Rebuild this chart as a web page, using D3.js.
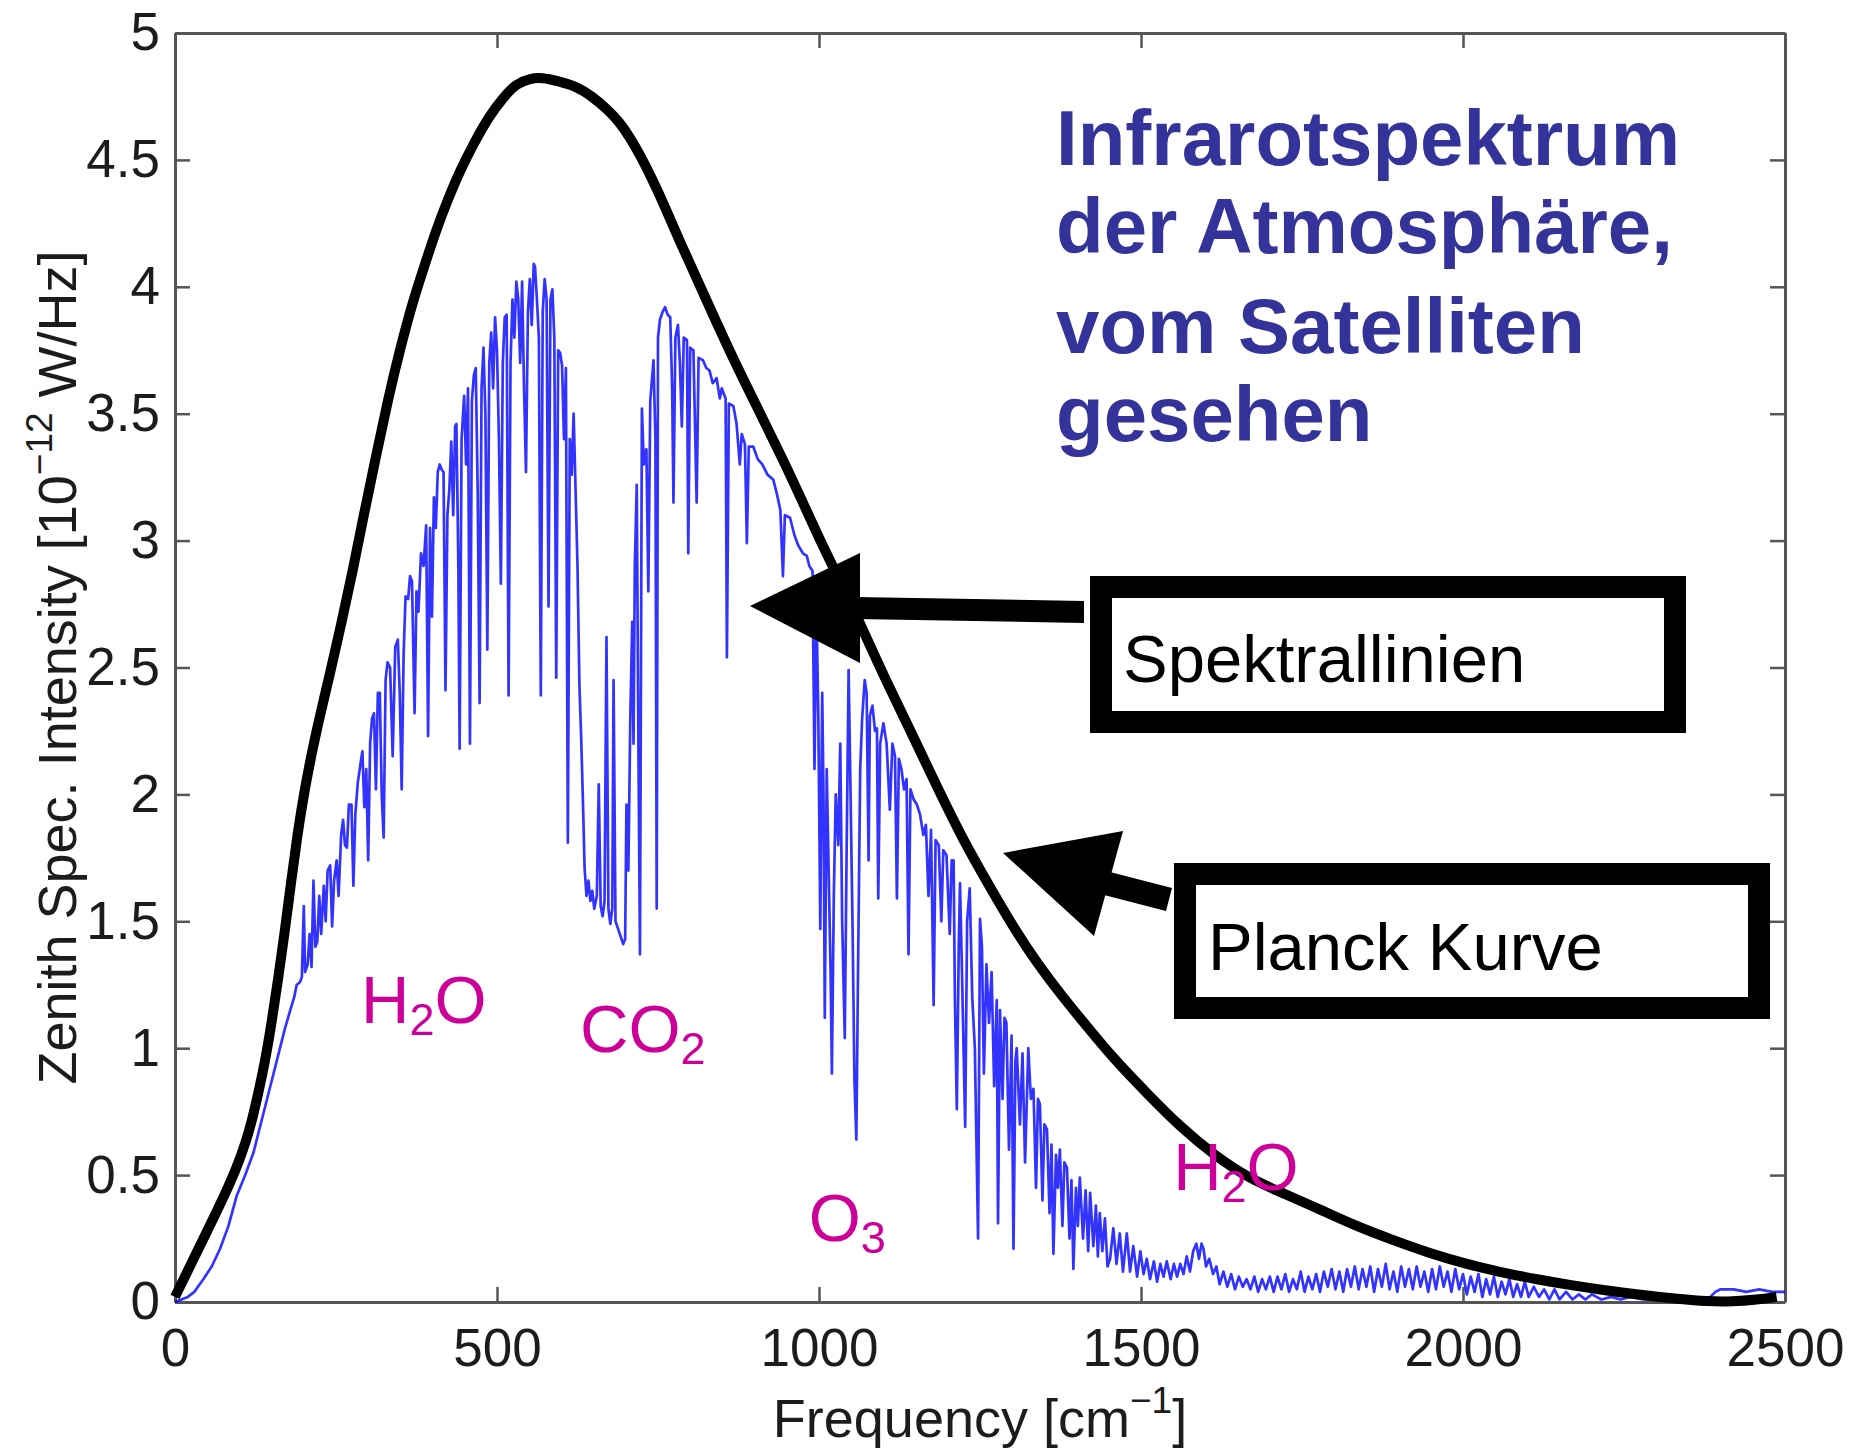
<!DOCTYPE html>
<html><head><meta charset="utf-8">
<script src="https://cdn.jsdelivr.net/npm/d3@7/dist/d3.min.js"></script>
<style>
body{margin:0;background:#fff}
svg{display:block}
text{font-family:"Liberation Sans",Arial,Helvetica,sans-serif}
</style>
</head><body>
<svg id="chart" width="1854" height="1449"></svg>
<script>
// ---------------- data ----------------
const xTicks = [0, 500, 1000, 1500, 2000, 2500];
const yTicks = [0, 0.5, 1, 1.5, 2, 2.5, 3, 3.5, 4, 4.5, 5];

// Planck curve [frequency cm^-1, intensity]
const planck = [
[0,0.02],[25,0.15],[50,0.28],[75,0.41],[96,0.53],[110,0.63],[120,0.72],[130,0.83],[140,0.95],[150,1.10],
[160,1.27],[170,1.45],[180,1.65],[190,1.84],[200,2.00],[212,2.16],[226,2.32],[241,2.48],[258,2.67],[276,2.88],
[293,3.10],[312,3.33],[331,3.56],[350,3.76],[369,3.94],[387,4.08],[405,4.22],[423,4.34],[443,4.46],[463,4.56],
[487,4.67],[511,4.75],[530,4.80],[550,4.82],[570,4.825],[595,4.81],[623,4.79],[648,4.75],[671,4.70],[690,4.65],
[706,4.59],[722,4.52],[740,4.43],[760,4.32],[780,4.20],[800,4.09],[830,3.92],[866,3.72],[905,3.52],[944,3.32],
[975,3.15],[1000,3.01],[1025,2.88],[1050,2.75],[1075,2.61],[1100,2.47],[1146,2.23],[1185,2.02],[1224,1.82],[1262,1.65],
[1301,1.48],[1340,1.33],[1379,1.20],[1418,1.08],[1457,0.96],[1510,0.82],[1561,0.69],[1613,0.58],[1669,0.485],[1724,0.425],
[1780,0.362],[1835,0.298],[1891,0.244],[1946,0.194],[2002,0.152],[2057,0.118],[2113,0.090],[2168,0.066],[2224,0.045],[2279,0.027],
[2335,0.012],[2379,0.002],[2418,0.001],[2457,0.009],[2487,0.020]
];

// Satellite spectrum [frequency cm^-1, intensity]
const spectrum = [
[0,0.00],[10,0.01],[20,0.02],[30,0.04],[44,0.09],[57,0.14],[70,0.21],[83,0.30],[96,0.42],[109,0.50],
[122,0.59],[135,0.72],[148,0.85],[156,0.93],[163,1.00],[171,1.08],[179,1.15],[185,1.20],[189,1.25],[194,1.26],
[197,1.28],[200,1.56],[202,1.30],[206,1.33],[209,1.45],[212,1.32],[215,1.66],[218,1.40],[221,1.42],[224,1.60],
[227,1.45],[231,1.64],[234,1.50],[237,1.70],[241,1.72],[244,1.48],[247,1.66],[251,1.74],[254,1.60],[258,1.84],
[261,1.90],[264,1.80],[267,1.79],[270,1.96],[274,1.96],[277,1.64],[280,1.92],[284,2.05],[288,2.12],[291,2.17],
[294,1.95],[297,2.10],[300,1.74],[303,2.20],[306,2.30],[309,2.32],[312,2.02],[315,2.40],[318,2.40],[321,2.00],
[324,1.83],[327,2.45],[330,2.52],[334,2.50],[338,2.15],[342,2.58],[346,2.61],[349,2.40],[352,2.02],[355,2.55],
[358,2.78],[362,2.77],[365,2.86],[368,2.84],[372,2.32],[375,2.80],[378,2.72],[382,2.95],[386,2.90],[390,3.06],
[393,2.23],[396,3.05],[399,2.70],[402,3.17],[405,3.05],[408,3.27],[411,3.30],[414,3.28],[417,3.27],[420,2.41],
[423,3.10],[426,3.20],[429,3.39],[432,3.10],[435,3.45],[437,3.46],[440,2.90],[442,2.18],[445,3.40],[449,3.57],
[452,3.30],[455,3.60],[458,2.20],[461,3.55],[464,3.65],[467,3.68],[470,3.20],[473,2.36],[476,3.60],[479,3.76],
[482,3.50],[485,2.57],[488,3.70],[491,3.82],[494,3.60],[497,3.88],[500,3.75],[503,3.40],[506,2.83],[509,3.70],
[512,3.88],[515,3.89],[518,2.39],[521,3.70],[524,3.95],[527,3.80],[530,4.02],[533,3.95],[536,3.70],[539,4.02],
[542,3.60],[545,3.27],[548,3.90],[551,4.03],[554,3.85],[557,4.09],[559,4.08],[562,3.95],[565,3.80],[568,2.39],
[571,3.90],[574,4.03],[577,3.95],[580,2.74],[583,3.95],[586,3.99],[589,3.80],[592,2.46],[595,3.75],[598,3.74],
[601,3.69],[604,3.40],[607,3.68],[610,1.81],[613,3.40],[616,3.26],[619,3.50],[622,3.20],[625,2.90],[628,2.43],
[631,2.20],[634,1.92],[636,1.71],[639,1.60],[642,1.66],[645,1.58],[648,1.62],[651,1.55],[655,1.60],[658,2.04],
[661,1.56],[664,1.52],[667,1.58],[670,2.62],[673,1.55],[676,1.49],[679,1.55],[681,2.45],[684,1.50],[688,1.47],
[692,1.44],[696,1.41],[699,1.43],[701,1.96],[704,1.70],[707,2.30],[710,2.68],[712,2.20],[714,2.90],[717,3.22],
[719,2.40],[722,1.37],[725,3.52],[728,3.30],[732,3.36],[735,2.80],[738,3.55],[743,3.71],[746,3.40],[748,1.55],
[750,3.80],[753,3.87],[757,3.90],[761,3.92],[765,3.89],[769,3.88],[772,3.60],[774,3.15],[777,3.80],[781,3.85],
[784,3.70],[787,3.45],[790,3.80],[795,3.79],[797,2.95],[800,3.76],[805,3.75],[810,3.15],[813,3.72],[820,3.71],
[825,3.68],[830,3.67],[835,3.62],[841,3.64],[846,3.56],[849,3.60],[855,3.56],[857,2.54],[860,3.54],[867,3.53],
[872,3.46],[877,3.30],[880,3.42],[885,3.38],[888,2.99],[891,3.37],[898,3.37],[905,3.32],[912,3.30],[920,3.26],
[929,3.24],[935,3.18],[940,3.12],[944,2.86],[947,3.10],[955,3.09],[962,3.02],[968,2.98],[975,2.95],[981,2.94],
[985,2.90],[990,2.88],[991,2.60],[993,2.10],[996,2.75],[999,2.30],[1002,1.47],[1005,2.40],[1007,2.00],[1009,1.12],
[1012,2.10],[1015,1.70],[1018,1.30],[1020,0.90],[1023,1.60],[1026,2.00],[1030,1.80],[1033,2.20],[1036,1.50],[1040,1.04],
[1043,1.80],[1046,2.49],[1049,2.00],[1052,1.50],[1055,0.88],[1058,0.64],[1061,1.40],[1064,2.10],[1067,2.30],[1071,2.45],
[1074,2.40],[1077,1.74],[1079,2.31],[1083,2.35],[1087,2.25],[1090,2.26],[1092,1.59],[1095,2.20],[1100,2.28],[1105,2.20],
[1110,1.94],[1114,2.20],[1118,2.15],[1121,1.59],[1124,2.14],[1128,2.10],[1132,2.02],[1136,2.06],[1139,1.37],[1142,2.02],
[1147,1.98],[1152,1.96],[1157,1.92],[1162,1.84],[1166,1.88],[1170,1.60],[1174,1.86],[1178,1.17],[1181,1.82],[1186,1.80],
[1190,1.50],[1193,1.78],[1198,1.76],[1203,1.45],[1206,1.74],[1209,1.74],[1211,1.20],[1214,0.76],[1217,1.40],[1219,1.65],
[1222,1.30],[1227,0.69],[1230,1.50],[1234,1.63],[1238,1.20],[1242,1.00],[1247,0.25],[1250,1.51],[1253,1.40],[1256,0.90],
[1260,1.33],[1264,1.10],[1268,1.30],[1272,0.85],[1276,1.19],[1278,0.31],[1281,1.15],[1285,0.80],[1288,1.12],[1291,1.10],
[1295,0.60],[1299,1.05],[1302,0.21],[1305,0.95],[1307,1.00],[1312,0.70],[1316,0.98],[1320,0.55],[1325,1.00],[1329,0.80],
[1333,0.84],[1337,0.45],[1340,0.80],[1343,0.78],[1347,0.40],[1350,0.70],[1354,0.68],[1358,0.35],[1361,0.62],[1364,0.19],
[1368,0.58],[1371,0.45],[1374,0.60],[1378,0.30],[1381,0.55],[1385,0.53],[1389,0.25],[1392,0.48],[1395,0.13],[1399,0.45],
[1402,0.30],[1405,0.49],[1410,0.25],[1414,0.44],[1418,0.20],[1421,0.43],[1426,0.22],[1430,0.38],[1433,0.18],[1436,0.35],
[1440,0.20],[1444,0.33],[1448,0.14],[1452,0.17],[1457,0.29],[1462,0.15],[1467,0.27],[1472,0.12],[1478,0.27],[1483,0.12],
[1488,0.22],[1494,0.10],[1499,0.20],[1504,0.11],[1509,0.17],[1514,0.09],[1520,0.16],[1525,0.08],[1530,0.15],[1535,0.10],
[1540,0.16],[1546,0.09],[1551,0.15],[1556,0.10],[1561,0.15],[1566,0.11],[1571,0.18],[1576,0.12],[1581,0.20],[1586,0.23],
[1590,0.17],[1594,0.23],[1597,0.21],[1601,0.14],[1606,0.17],[1612,0.11],[1617,0.14],[1622,0.07],[1628,0.12],[1634,0.06],
[1640,0.11],[1646,0.05],[1652,0.10],[1658,0.06],[1664,0.09],[1670,0.05],[1676,0.10],[1682,0.04],[1688,0.09],[1694,0.05],
[1700,0.10],[1706,0.04],[1712,0.10],[1718,0.05],[1724,0.11],[1730,0.04],[1736,0.09],[1742,0.05],[1748,0.12],[1754,0.04],
[1760,0.10],[1766,0.05],[1772,0.11],[1778,0.04],[1784,0.12],[1790,0.06],[1796,0.13],[1802,0.05],[1808,0.12],[1814,0.04],
[1820,0.13],[1826,0.06],[1832,0.14],[1838,0.05],[1844,0.13],[1850,0.06],[1856,0.14],[1862,0.04],[1868,0.13],[1874,0.06],
[1880,0.15],[1886,0.05],[1892,0.12],[1898,0.04],[1904,0.14],[1910,0.06],[1916,0.13],[1922,0.05],[1928,0.14],[1934,0.06],
[1940,0.12],[1946,0.04],[1952,0.13],[1958,0.05],[1964,0.14],[1970,0.06],[1976,0.12],[1982,0.04],[1988,0.13],[1994,0.05],
[2000,0.11],[2006,0.03],[2012,0.10],[2018,0.04],[2024,0.11],[2030,0.02],[2036,0.09],[2042,0.03],[2048,0.10],[2054,0.02],
[2060,0.08],[2066,0.03],[2072,0.09],[2078,0.02],[2084,0.07],[2090,0.02],[2096,0.08],[2102,0.02],[2110,0.06],[2118,0.02],
[2126,0.05],[2134,0.01],[2142,0.05],[2150,0.01],[2160,0.04],[2170,0.01],[2180,0.03],[2190,0.01],[2200,0.03],[2215,0.01],
[2230,0.02],[2245,0.01],[2260,0.02],[2280,0.01],[2300,0.01],[2340,0.01],[2380,0.01],[2392,0.04],[2400,0.05],[2420,0.05],
[2440,0.04],[2460,0.05],[2480,0.04],[2500,0.04]
];

const titleLines = ["Infrarotspektrum", "der Atmosphäre,", "vom Satelliten", "gesehen"];
const boxLabels = ["Spektrallinien", "Planck Kurve"];
// molecule labels: [prefix, subscript, suffix, frequency, intensity]
const molecules = [
  ["H", "2", "O", 289, 1.10],
  ["CO", "2", "", 629, 0.985],
  ["O", "3", "", 984, 0.24],
  ["H", "2", "O", 1550, 0.44]
];

// ---------------- layout ----------------
const svg = d3.select("#chart");
const padL = 175, padR = 1785, padT = 33, padB = 1302;
const x = d3.scaleLinear().domain([0, 2500]).range([padL, padR]);
const y = d3.scaleLinear().domain([0, 5]).range([padB, padT]);

svg.append("rect").attr("width", 1854).attr("height", 1449).attr("fill", "#fff");

const axisColor = "#555";
const labelColor = "#1c1c1c";

function styleAxis(g) {
  g.select(".domain").attr("stroke", axisColor).attr("stroke-width", 3);
  g.selectAll(".tick line").attr("stroke", axisColor).attr("stroke-width", 2.5);
  g.selectAll(".tick text").attr("fill", labelColor)
    .style("font-family", "'Liberation Sans', Arial, sans-serif")
    .style("font-size", "53px");
}

svg.append("g").attr("transform", `translate(0,${padB})`)
  .call(d3.axisBottom(x).tickValues(xTicks).tickSize(-15).tickSizeOuter(0).tickPadding(26).tickFormat(d3.format("d")))
  .call(styleAxis);
svg.append("g").attr("transform", `translate(0,${padT})`)
  .call(d3.axisTop(x).tickValues(xTicks).tickSize(-15).tickSizeOuter(0).tickFormat(""))
  .call(styleAxis);
svg.append("g").attr("transform", `translate(${padL},0)`)
  .call(d3.axisLeft(y).tickValues(yTicks).tickSize(-15).tickSizeOuter(0).tickPadding(15).tickFormat(d => String(d)))
  .call(styleAxis);
svg.append("g").attr("transform", `translate(${padR},0)`)
  .call(d3.axisRight(y).tickValues(yTicks).tickSize(-15).tickSizeOuter(0).tickFormat(""))
  .call(styleAxis);

// axis titles
const xl = svg.append("text").attr("x", (padL + padR) / 2).attr("y", 1437)
  .attr("text-anchor", "middle").attr("fill", labelColor).style("font-size", "54px");
xl.append("tspan").text("Frequency [cm");
xl.append("tspan").text("\u22121").style("font-size", "37px").attr("dy", -24);
xl.append("tspan").text("]").attr("dy", 24);

const yl = svg.append("text").attr("transform", `translate(76,${(padT + padB) / 2}) rotate(-90)`)
  .attr("text-anchor", "middle").attr("fill", labelColor).style("font-size", "54px");
yl.append("tspan").text("Zenith Spec. Intensity [10");
yl.append("tspan").text("\u221212").style("font-size", "37px").attr("dy", -24);
yl.append("tspan").text(" W/Hz]").attr("dy", 24);

// spectrum
const line = d3.line().x(d => x(d[0])).y(d => y(d[1]));
svg.append("path").datum(spectrum).attr("d", line)
  .attr("fill", "none").attr("stroke", "#0000ff").attr("stroke-width", 2.7)
  .attr("stroke-opacity", 0.8).attr("stroke-linejoin", "round");

// Planck curve
const pline = d3.line().x(d => x(d[0])).y(d => y(d[1])).curve(d3.curveBasis);
svg.append("path").datum(planck).attr("d", pline)
  .attr("fill", "none").attr("stroke", "#000").attr("stroke-width", 10)
  .attr("stroke-linejoin", "round").attr("stroke-linecap", "butt");

// title block
const title = svg.append("text").attr("fill", "#333399")
  .style("font-size", "78px").style("font-weight", "bold");
const titleBase = [165, 253, 353, 441];
titleLines.forEach((t, i) => {
  title.append("tspan").attr("x", 1056).attr("y", titleBase[i]).text(t);
});

// molecule labels
molecules.forEach(m => {
  const t = svg.append("text").attr("x", x(m[3])).attr("y", y(m[4]))
    .attr("fill", "#cc0099").style("font-size", "67px");
  t.append("tspan").text(m[0]);
  t.append("tspan").text(m[1]).style("font-size", "45px").attr("dy", 12);
  if (m[2]) t.append("tspan").text(m[2]).attr("dy", -12);
});

// annotation arrows
const arrows = svg.append("g").attr("fill", "#000");
arrows.append("polygon").attr("points", "750,606 860,553 860,663");
arrows.append("polygon").attr("points", "856,597 1084,601 1084,623 856,619");
arrows.append("polygon").attr("points", "1003,853 1123,831 1094,936");
arrows.append("polygon").attr("points", "1110,872 1172,888 1166,911 1104,895");

// annotation boxes
const boxes = [
  {x: 1101, y: 587, w: 574, h: 135, tx: 1123, ty: 682},
  {x: 1185, y: 874, w: 574, h: 134, tx: 1208, ty: 970}
];
boxes.forEach((b, i) => {
  svg.append("rect").attr("x", b.x).attr("y", b.y).attr("width", b.w).attr("height", b.h)
    .attr("fill", "#fff").attr("stroke", "#000").attr("stroke-width", 22);
  svg.append("text").attr("x", b.tx).attr("y", b.ty).attr("fill", "#000")
    .style("font-size", "67px").text(boxLabels[i]);
});
</script>
</body></html>
